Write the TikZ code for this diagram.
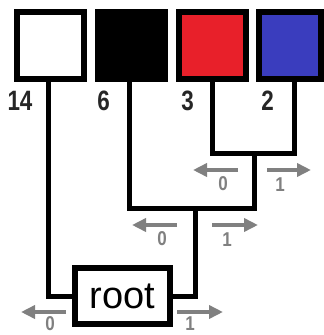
\documentclass[tikz,border=0pt]{standalone}
\usepackage{fontspec}
\setmainfont{Liberation Sans}
\usetikzlibrary{arrows.meta}
\definecolor{myred}{HTML}{E8202A}
\definecolor{myblue}{HTML}{3A3DBE}
\definecolor{arrowgray}{HTML}{808080}
\begin{document}
\begin{tikzpicture}[x=1pt,y=-1pt,
  leaf/.style={draw=black,line width=6pt,minimum width=67pt,minimum height=67pt,inner sep=0pt},
  stem/.style={draw=black,line width=5pt,line join=miter},
  garrow/.style={draw=arrowgray,line width=4pt,-{Triangle[length=14pt,width=13pt]}},
  num/.style={font=\fontsize{28}{28}\selectfont\bfseries,text=black!85,xscale=0.8,inner sep=0pt},
  bit/.style={font=\fontsize{20}{20}\selectfont\bfseries,text=arrowgray,xscale=0.85,inner sep=0pt}]
\useasboundingbox[fill=white] (0,0) rectangle (324,335);
% leaves
\node[leaf,fill=white] (b1) at (50.5,45.5) {};
\node[leaf,fill=black] (b2) at (131.5,45.5) {};
\node[leaf,fill=myred] (b3) at (212,45.5) {};
\node[leaf,fill=myblue,minimum width=62pt] (b4) at (290,45.5) {};
% numbers
\node[num] (n1) at (20,100.5) {14};
\node[num] (n2) at (103.5,100.5) {6};
\node[num] (n3) at (187.5,100.5) {3};
\node[num] (n4) at (267.5,100.5) {2};
% root
\node[draw=black,line width=6pt,fill=white,minimum width=95pt,minimum height=56pt,inner sep=0pt,
      font=\fontsize{38}{38}\selectfont] (root) at (122.5,296) {root};
% joints
\coordinate (s1) at (48,79);
\coordinate (s2) at (129,79);
\coordinate (s3) at (212,79);
\coordinate (s4) at (294,79);
\coordinate (j2) at (254,153);
\coordinate (j1) at (254,208);
\coordinate (j3) at (195,208);
% connectors
\draw[stem] (s3) |- (j2) -| (s4);
\draw[stem] (s2) |- (j1) -- (j2);
\draw[stem] (j3) |- (root.east);
\draw[stem] (s1) |- (root.west);
% arrows
\coordinate (a1l) at (238,170); \coordinate (a1le) at (193,170);
\coordinate (a1r) at (267,170); \coordinate (a1re) at (311,170);
\coordinate (a2l) at (177,225); \coordinate (a2le) at (132,225);
\coordinate (a2r) at (212,225); \coordinate (a2re) at (258,225);
\coordinate (a3l) at (66,312);  \coordinate (a3le) at (21,312);
\coordinate (a3r) at (177,312); \coordinate (a3re) at (223,312);
\draw[garrow] (a1l) -- (a1le);
\draw[garrow] (a1r) -- (a1re);
\draw[garrow] (a2l) -- (a2le);
\draw[garrow] (a2r) -- (a2re);
\draw[garrow] (a3l) -- (a3le);
\draw[garrow] (a3r) -- (a3re);
\node[bit] (z1) at (223,184) {0};
\node[bit] (o1) at (280,185) {1};
\node[bit] (z2) at (162,239) {0};
\node[bit] (o2) at (227,240) {1};
\node[bit] (z3) at (50,324) {0};
\node[bit] (o3) at (190,324) {1};
\end{tikzpicture}
\end{document}
